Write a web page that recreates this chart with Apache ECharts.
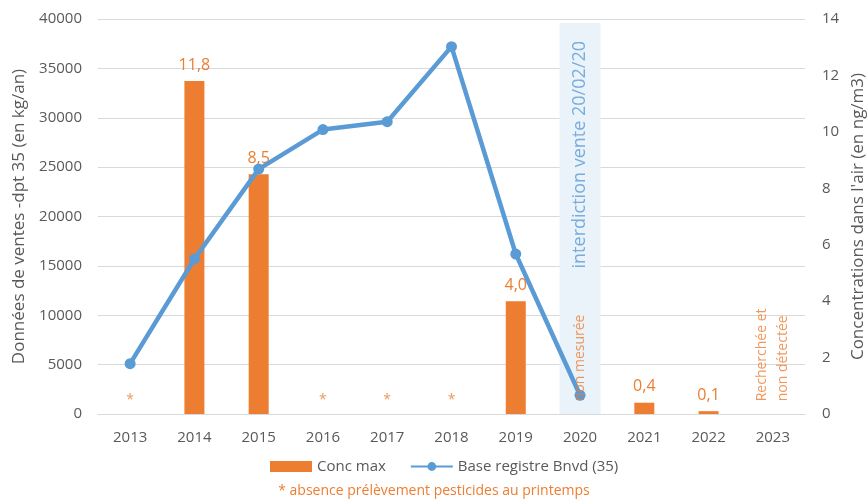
<!DOCTYPE html>
<html>
<head>
<meta charset="utf-8">
<script src="https://cdn.jsdelivr.net/npm/echarts@6/dist/echarts.min.js"></script>
<style>
  html, body { margin: 0; padding: 0; background: #fff; }
  #chart { width: 868px; height: 500px; }
</style>
</head>
<body>
<div id="chart"></div>
<script>
// données
const years = ["2013", "2014", "2015", "2016", "2017", "2018", "2019", "2020", "2021", "2022", "2023"];
const concMax = [null, 11.8, 8.5, null, null, null, 4.0, null, 0.4, 0.1, null];
const ventes = [5100, 15700, 24800, 28800, 29600, 37200, 16200, 1900, null, null, null];
// années sans prélèvement (astérisque)
const absentYears = ["2013", "2016", "2017", "2018"];
const noteYears = ["2020", "2023"];
const noteTexts = ["non mesurée", "Recherchée et\nnon détectée"];

const orange = "#ED7D31";
const blue = "#5B9BD5";
const grey = "#595959";
const font = "Open Sans";

const chart = echarts.init(document.getElementById("chart"));

chart.setOption({
  textStyle: { fontFamily: font },
  animation: false,
  grid: { left: 98, right: 63, top: 19, bottom: 86, outerBoundsMode: "none", containLabel: false },
  title: {
    text: "* absence prélèvement pesticides au printemps",
    left: "center",
    bottom: -3,
    textStyle: { color: orange, fontSize: 14, fontWeight: "normal", fontFamily: font }
  },
  legend: {
    bottom: 21,
    left: 265,
    itemGap: 24,
    textStyle: { color: grey, fontSize: 15 },
    data: [
      { name: "Conc max", icon: "rect", itemStyle: { color: orange } },
      { name: "Base registre Bnvd (35)" }
    ],
    itemWidth: 42,
    itemHeight: 11
  },
  xAxis: [
    {
      type: "category",
      data: years,
      axisLine: { lineStyle: { color: "#D9D9D9" } },
      axisTick: { show: false },
      axisLabel: { color: grey, fontSize: 15, margin: 16 }
    },
    {
      type: "category",
      data: years,
      show: false
    }
  ],
  yAxis: [
    {
      type: "value",
      min: 0,
      max: 40000,
      interval: 5000,
      name: "Données de ventes -dpt 35 (en kg/an)",
      nameLocation: "middle",
      nameGap: 70,
      nameTextStyle: { color: grey, fontSize: 17 },
      axisLabel: { color: grey, fontSize: 15, margin: 16, formatter: v => String(v) },
      splitLine: { lineStyle: { color: "#D9D9D9" } }
    },
    {
      type: "value",
      min: 0,
      max: 14,
      interval: 2,
      name: "Concentrations dans l'air (en ng/m3)",
      nameLocation: "middle",
      nameGap: 42,
      nameTextStyle: { color: grey, fontSize: 17 },
      axisLabel: { color: grey, fontSize: 15, margin: 17 },
      splitLine: { show: false }
    },
    {
      type: "value",
      min: 0,
      max: 100,
      show: false
    }
  ],
  series: [
    {
      // bande "interdiction vente"
      name: "band",
      type: "bar",
      xAxisIndex: 1,
      yAxisIndex: 2,
      data: years.map(y => (y === "2020" ? 99 : null)),
      barWidth: 41,
      itemStyle: { color: "#EAF2FA" },
      silent: true,
      z: 0
    },
    {
      name: "Conc max",
      type: "bar",
      yAxisIndex: 1,
      data: concMax,
      barWidth: 20,
      itemStyle: { color: orange },
      label: {
        show: true,
        position: "top",
        distance: 8,
        color: orange,
        fontSize: 16,
        formatter: p => p.value.toFixed(1).replace(".", ",")
      },
      z: 2
    },
    {
      name: "Base registre Bnvd (35)",
      type: "line",
      yAxisIndex: 0,
      data: ventes,
      symbol: "circle",
      symbolSize: 11,
      lineStyle: { color: blue, width: 4.5 },
      itemStyle: { color: blue },
      z: 3
    },
    {
      // astérisques
      name: "asterisk",
      type: "scatter",
      yAxisIndex: 1,
      data: absentYears.map(y => [y, 0.5]),
      symbolSize: 0,
      label: { show: true, formatter: "*", color: orange, fontSize: 14, position: "inside" },
      silent: true
    },
    {
      // notes verticales
      name: "notes",
      type: "scatter",
      yAxisIndex: 1,
      data: noteYears.map((y, i) => ({ value: [y, 0.45], label: { formatter: noteTexts[i] } })),
      symbolSize: 0,
      label: {
        show: true,
        position: "inside",
        rotate: 90,
        align: "left",
        verticalAlign: "middle",
        color: orange,
        fontSize: 14,
        lineHeight: 21
      },
      silent: true,
      z: 4
    },
    {
      name: "interdiction",
      type: "scatter",
      yAxisIndex: 1,
      data: [["2020", 5.3]],
      symbolSize: 0,
      label: {
        show: true,
        position: "inside",
        rotate: 90,
        align: "left",
        verticalAlign: "middle",
        offset: [-4, 0],
        formatter: "interdiction vente 20/02/20",
        color: blue,
        fontSize: 18
      },
      silent: true,
      z: 4
    }
  ]
});
</script>
</body>
</html>
